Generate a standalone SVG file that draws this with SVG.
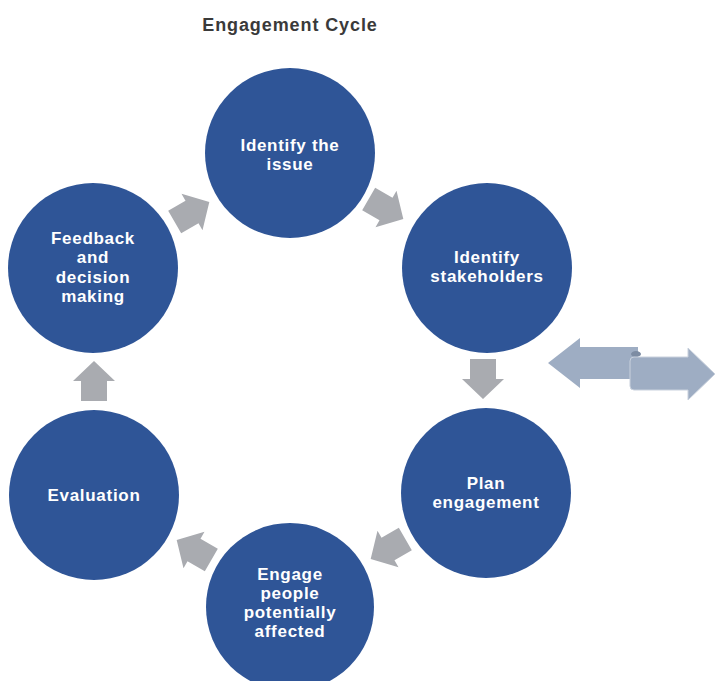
<svg xmlns="http://www.w3.org/2000/svg" xmlns:xlink="http://www.w3.org/1999/xlink" width="715" height="681" viewBox="0 0 715 681">
  <defs>
    <style>
      .title { font-family: "Liberation Sans", Arial, sans-serif; font-weight: bold; font-size: 18px; letter-spacing: 0.9px; fill: #3a3a3a; text-anchor: middle; }
      .node circle { fill: #2f5597; }
      .node text { font-family: "Liberation Sans", Arial, sans-serif; font-weight: bold; font-size: 17px; letter-spacing: 0.7px; fill: #ffffff; text-anchor: middle; }
      .step { fill: #a9abb0; }
      .side { fill: #9eadc3; }
    </style>
    <!-- block arrow pointing along +x, centred on the origin -->
    <path id="blockArrow" d="M-20,-13 L0,-13 L0,-21 L20,0 L0,21 L0,13 L-20,13 Z"/>
  </defs>

  <rect width="715" height="681" fill="#ffffff"/>

  <text class="title" x="290" y="31">Engagement Cycle</text>

  <!-- cycle arrows between the steps -->
  <g id="connectors">
    <use xlink:href="#blockArrow" class="step" transform="translate(192,212) rotate(-30)"/>
    <use xlink:href="#blockArrow" class="step" transform="translate(386,209) rotate(30)"/>
    <use xlink:href="#blockArrow" class="step" transform="translate(483,379) rotate(90)"/>
    <use xlink:href="#blockArrow" class="step" transform="translate(388,549) rotate(150)"/>
    <use xlink:href="#blockArrow" class="step" transform="translate(194,550) rotate(210)"/>
    <use xlink:href="#blockArrow" class="step" transform="translate(94,381) rotate(270)"/>
  </g>

  <!-- two-way arrow on the right -->
  <g id="two-way-arrow">
    <path class="side" d="M548,363 L580,338 L580,347 L638,347 L638,379 L580,379 L580,388 Z"/>
    <ellipse cx="636" cy="354" rx="5" ry="3" fill="#7d8ca3"/>
    <path class="side" d="M634,357 L688,357 L688,348 L715,374 L688,400 L688,390 L634,390 Q630,390 630,386 L630,361 Q630,357 634,357 Z" stroke="#c9d1dd" stroke-width="1"/>
  </g>

  <g id="identify-issue" class="node">
    <circle cx="290" cy="153" r="85"/>
    <text x="290" y="151">Identify the</text>
    <text x="290" y="170">issue</text>
  </g>

  <g id="identify-stakeholders" class="node">
    <circle cx="487" cy="268" r="85"/>
    <text x="487" y="263">Identify</text>
    <text x="487" y="282">stakeholders</text>
  </g>

  <g id="plan-engagement" class="node">
    <circle cx="486" cy="493" r="85"/>
    <text x="486" y="489">Plan</text>
    <text x="486" y="508">engagement</text>
  </g>

  <g id="engage-people" class="node">
    <circle cx="290" cy="607" r="84"/>
    <text x="290" y="580">Engage</text>
    <text x="290" y="599">people</text>
    <text x="290" y="618">potentially</text>
    <text x="290" y="637">affected</text>
  </g>

  <g id="evaluation" class="node">
    <circle cx="94" cy="495" r="85"/>
    <text x="94" y="501">Evaluation</text>
  </g>

  <g id="feedback" class="node">
    <circle cx="93" cy="268" r="85"/>
    <text x="93" y="244">Feedback</text>
    <text x="93" y="263">and</text>
    <text x="93" y="283">decision</text>
    <text x="93" y="302">making</text>
  </g>
</svg>
